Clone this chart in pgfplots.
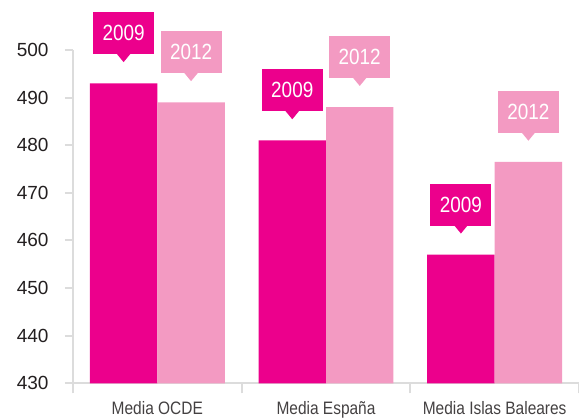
\documentclass[border=0pt]{standalone}
\usepackage{fontspec}
\setmainfont{Liberation Sans}
\newfontfamily\cond[FakeStretch=0.86]{Liberation Sans}
\usepackage{pgfplots}
\pgfplotsset{compat=1.18}
\definecolor{mag}{HTML}{EC008C}
\definecolor{pinkb}{HTML}{F39AC2}
\definecolor{axgray}{HTML}{DCDCDC}
\definecolor{txt}{HTML}{231F20}
\newcommand{\callout}[2]{\tikz{%
  \fill[#1] (-30.5pt,8pt) rectangle (30.5pt,50pt);%
  \fill[#1] (-7pt,8.5pt) -- (7pt,8.5pt) -- (0pt,0pt) -- cycle;%
  \node[text=white, inner sep=0pt, anchor=center, xshift=0pt, yshift=0pt, font=\cond\fontsize{22}{25}\selectfont] at (0pt,29pt) {#2};}}
\begin{document}
\begin{tikzpicture}
\begin{axis}[
  at={(73pt,34.7pt)}, anchor=south west,
  scale only axis, width=506pt, height=333.3pt,
  xmin=0, xmax=3, ymin=430, ymax=500,
  axis x line*=bottom, axis y line*=left,
  axis line style={draw=axgray, line width=2pt},
  ytick={430,440,...,500},
  xtick={0.5,1.5,2.5},
  xticklabels={Media OCDE, Media España, Media Islas Baleares},
  minor xtick={0,1,2,3},
  tick align=outside,
  major tick length=8pt, minor tick length=10pt,
  tick style={draw=axgray, line width=2pt},
  major x tick style={draw=none},
  /pgf/number format/assume math mode=true,
  yticklabel style={font=\fontsize{19}{22}\selectfont, text=txt, xshift=-13pt},
  xticklabel style={font=\cond\fontsize{18}{21}\selectfont, text=txt!85, yshift=-7pt},
]
\addplot[ybar, bar width=0.4, bar shift=0pt, fill=mag, draw=none,
  nodes near coords={\callout{mag}{2009}},
  nodes near coords style={anchor=south, inner sep=0pt, yshift=21pt}]
  coordinates {(0.3,493) (1.3,481) (2.3,457)};
\addplot[ybar, bar width=0.4, bar shift=0pt, fill=pinkb, draw=none,
  nodes near coords={\callout{pinkb}{2012}},
  nodes near coords style={anchor=south, inner sep=0pt, yshift=21pt}]
  coordinates {(0.7,489) (1.7,488) (2.7,476.5)};
\end{axis}
\pgfresetboundingbox
\useasboundingbox (0,0) rectangle (579pt,418pt);
\end{tikzpicture}
\end{document}
